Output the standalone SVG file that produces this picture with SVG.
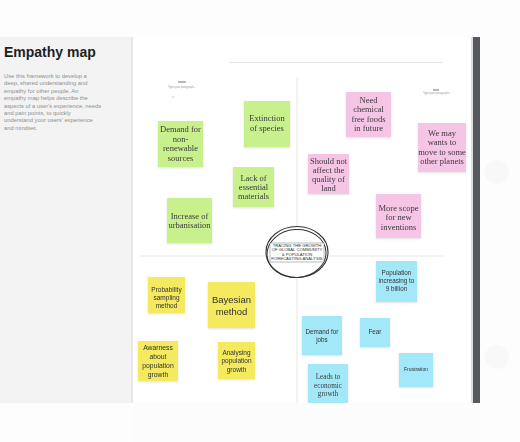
<svg xmlns="http://www.w3.org/2000/svg" width="520" height="442" viewBox="0 0 520 442">
<defs>
<filter id="sh" x="-20%" y="-20%" width="140%" height="140%"><feDropShadow dx="0" dy="1" stdDeviation="1" flood-color="#000" flood-opacity="0.12"/></filter>
<style>
.g{fill:#c8f08c}
.p{fill:#f6c4e5}
.y{fill:#f4e95e}
.b{fill:#a3e8f9}
.note{filter:url(#sh)}
.serif{font-family:"Liberation Serif","DejaVu Serif",serif;font-size:8.5px;fill:#3a3a3a;text-anchor:middle}
.sans{font-family:"Liberation Sans",Arial,sans-serif;font-size:6.3px;fill:#333;text-anchor:middle}
.desc{font-family:"Liberation Sans",Arial,sans-serif;font-size:5.8px;fill:#8f8f8f}
.div{stroke:#e6e6e6;stroke-width:1;fill:none}
.ctext{font-family:"Liberation Sans",Arial,sans-serif;font-size:4.2px;fill:#333;text-anchor:middle}
.tiny{font-family:"Liberation Sans",Arial,sans-serif;font-size:2.8px;fill:#999;text-anchor:middle}
</style>
</defs>
<rect x="0" y="0" width="520" height="442" fill="#fdfdfd"/>
<g id="side-panel">
<rect x="0" y="37" width="132" height="366" fill="#f3f3f3"/>
<line x1="132" y1="37" x2="132" y2="403" stroke="#dcdcdc" stroke-width="1.2"/>
<text x="4" y="57" font-family="Liberation Sans,Arial,sans-serif" font-weight="bold" font-size="14" fill="#1e1e1e">Empathy map</text>
<text class="desc" x="4" y="78">Use this framework to develop a</text>
<text class="desc" x="4" y="85.4">deep, shared understanding and</text>
<text class="desc" x="4" y="92.8">empathy for other people. An</text>
<text class="desc" x="4" y="100.2">empathy map helps describe the</text>
<text class="desc" x="4" y="107.6">aspects of a user's experience, needs</text>
<text class="desc" x="4" y="115">and pain points, to quickly</text>
<text class="desc" x="4" y="122.4">understand your users' experience</text>
<text class="desc" x="4" y="129.8">and mindset.</text>
</g>
<g id="board">
<rect x="133" y="37" width="340" height="366" fill="#ffffff"/>
<line x1="472" y1="37" x2="472" y2="403" stroke="#bdbdbd" stroke-width="1"/>
<rect x="473" y="37" width="7" height="366" fill="#55595d"/>
</g>
<g id="dividers">
<line class="div" x1="229" y1="62.5" x2="443" y2="62.5"/>
<line class="div" x1="297" y1="77" x2="297" y2="403"/>
<line class="div" x1="140" y1="256" x2="443" y2="256"/>
</g>
<g id="faint-icons" fill="#f8f8f8">
<circle cx="497" cy="172" r="12"/>
<circle cx="497" cy="357" r="12"/>
</g>
<g id="label-left">
<rect x="178" y="81.5" width="8" height="1" fill="#777"/>
<text class="tiny" x="182" y="88">Type your paragraph...</text>
<circle cx="173" cy="97" r="0.6" fill="#888"/>
</g>
<g id="label-right">
<rect x="433" y="89.5" width="6" height="1" fill="#777"/>
<text class="tiny" x="437" y="94">Type your paragraph...</text>
</g>
<g id="n-demand-nonrenewable" class="note">
<rect class="g" x="158" y="121" width="45" height="46"/>
<text class="serif" x="180.5" y="132">Demand for</text>
<text class="serif" x="180.5" y="141.5">non-</text>
<text class="serif" x="180.5" y="151">renewable</text>
<text class="serif" x="180.5" y="160.5">sources</text>
</g>
<g id="n-extinction" class="note">
<rect class="g" x="244" y="101" width="46" height="46"/>
<text class="serif" x="267" y="121">Extinction</text>
<text class="serif" x="267" y="131">of species</text>
</g>
<g id="n-lack" class="note">
<rect class="g" x="233" y="167" width="41" height="40"/>
<text class="serif" x="253.5" y="181">Lack of</text>
<text class="serif" x="253.5" y="190">essential</text>
<text class="serif" x="253.5" y="199">materials</text>
</g>
<g id="n-urbanisation" class="note">
<rect class="g" x="167" y="198" width="45" height="45"/>
<text class="serif" x="189.5" y="219">Increase of</text>
<text class="serif" x="189.5" y="227.5">urbanisation</text>
</g>
<g id="n-chemical-free" class="note">
<rect class="p" x="346" y="92" width="45" height="45"/>
<text class="serif" x="368.5" y="102.5">Need</text>
<text class="serif" x="368.5" y="112">chemical</text>
<text class="serif" x="368.5" y="121.5">free foods</text>
<text class="serif" x="368.5" y="131">in future</text>
</g>
<g id="n-other-planets" class="note">
<rect class="p" x="418" y="123" width="48" height="49"/>
<text class="serif" x="442" y="135.5">We may</text>
<text class="serif" x="442" y="145">wants to</text>
<text class="serif" x="442" y="154.5">move to some</text>
<text class="serif" x="442" y="164">other planets</text>
</g>
<g id="n-quality-land" class="note">
<rect class="p" x="308" y="154" width="41" height="40"/>
<text class="serif" x="328.5" y="163.5">Should not</text>
<text class="serif" x="328.5" y="172.5">affect the</text>
<text class="serif" x="328.5" y="181.5">quality of</text>
<text class="serif" x="328.5" y="190.5">land</text>
</g>
<g id="n-inventions" class="note">
<rect class="p" x="376" y="194" width="45" height="44"/>
<text class="serif" x="398.5" y="210.5">More scope</text>
<text class="serif" x="398.5" y="220">for new</text>
<text class="serif" x="398.5" y="229.5">inventions</text>
</g>
<g id="n-center">
<ellipse cx="297" cy="252" rx="31" ry="25.5" fill="#fff" stroke="#333" stroke-width="1.1"/>
<ellipse cx="296.5" cy="253.5" rx="29.5" ry="24" fill="none" stroke="#333" stroke-width="1" transform="rotate(-4 296.5 253.5)"/>
<rect x="270" y="243" width="54" height="19" fill="#fff" stroke="#555" stroke-width="0.4"/>
<text class="ctext" x="297" y="247">TRACING THE GROWTH</text>
<text class="ctext" x="297" y="251.3">OF GLOBAL COMMUNITY</text>
<text class="ctext" x="297" y="255.6">&amp; POPULATION</text>
<text class="ctext" x="297" y="259.9">FORECASTING ANALYSIS</text>
</g>
<g id="n-probability" class="note">
<rect class="y" x="148" y="277" width="37" height="36"/>
<text class="sans" x="166.5" y="292" style="font-size:6.5px">Probability</text>
<text class="sans" x="166.5" y="300" style="font-size:6.5px">sampling</text>
<text class="sans" x="166.5" y="308" style="font-size:6.5px">method</text>
</g>
<g id="n-bayesian" class="note">
<rect class="y" x="208" y="282" width="47" height="46"/>
<text class="sans" x="231.5" y="302.5" style="font-size:9.5px">Bayesian</text>
<text class="sans" x="231.5" y="314.5" style="font-size:9.5px">method</text>
</g>
<g id="n-awarness" class="note">
<rect class="y" x="138" y="341" width="40" height="40"/>
<text class="sans" x="158" y="349.5" style="font-size:6.8px">Awarness</text>
<text class="sans" x="158" y="358.5" style="font-size:6.8px">about</text>
<text class="sans" x="158" y="367.5" style="font-size:6.8px">population</text>
<text class="sans" x="158" y="376.5" style="font-size:6.8px">growth</text>
</g>
<g id="n-analysing" class="note">
<rect class="y" x="218" y="342" width="37" height="37"/>
<text class="sans" x="236.5" y="355" style="font-size:6.5px">Analysing</text>
<text class="sans" x="236.5" y="363" style="font-size:6.5px">population</text>
<text class="sans" x="236.5" y="372" style="font-size:6.5px">growth</text>
</g>
<g id="n-population-9b" class="note">
<rect class="b" x="376" y="261" width="41" height="41"/>
<text class="sans" x="396.5" y="275">Population</text>
<text class="sans" x="396.5" y="283">increasing to</text>
<text class="sans" x="396.5" y="291">9 billion</text>
</g>
<g id="n-demand-jobs" class="note">
<rect class="b" x="302" y="316" width="40" height="39"/>
<text class="sans" x="322" y="333.5">Demand for</text>
<text class="sans" x="322" y="341.5">jobs</text>
</g>
<g id="n-fear" class="note">
<rect class="b" x="360" y="318" width="30" height="29"/>
<text class="sans" x="375" y="334">Fear</text>
</g>
<g id="n-frustration" class="note">
<rect class="b" x="399" y="353" width="34" height="34"/>
<text class="sans" x="416" y="371" style="font-size:5px">Frustration</text>
</g>
<g id="n-economic-growth" class="note">
<rect class="b" x="308" y="364" width="40" height="39"/>
<text class="serif" x="328" y="379" style="font-size:7.2px">Leads to</text>
<text class="serif" x="328" y="387.5" style="font-size:7.2px">economic</text>
<text class="serif" x="328" y="396" style="font-size:7.2px">growth</text>
</g>
<rect x="133" y="403" width="347" height="39" fill="#fcfcfc"/>
</svg>
